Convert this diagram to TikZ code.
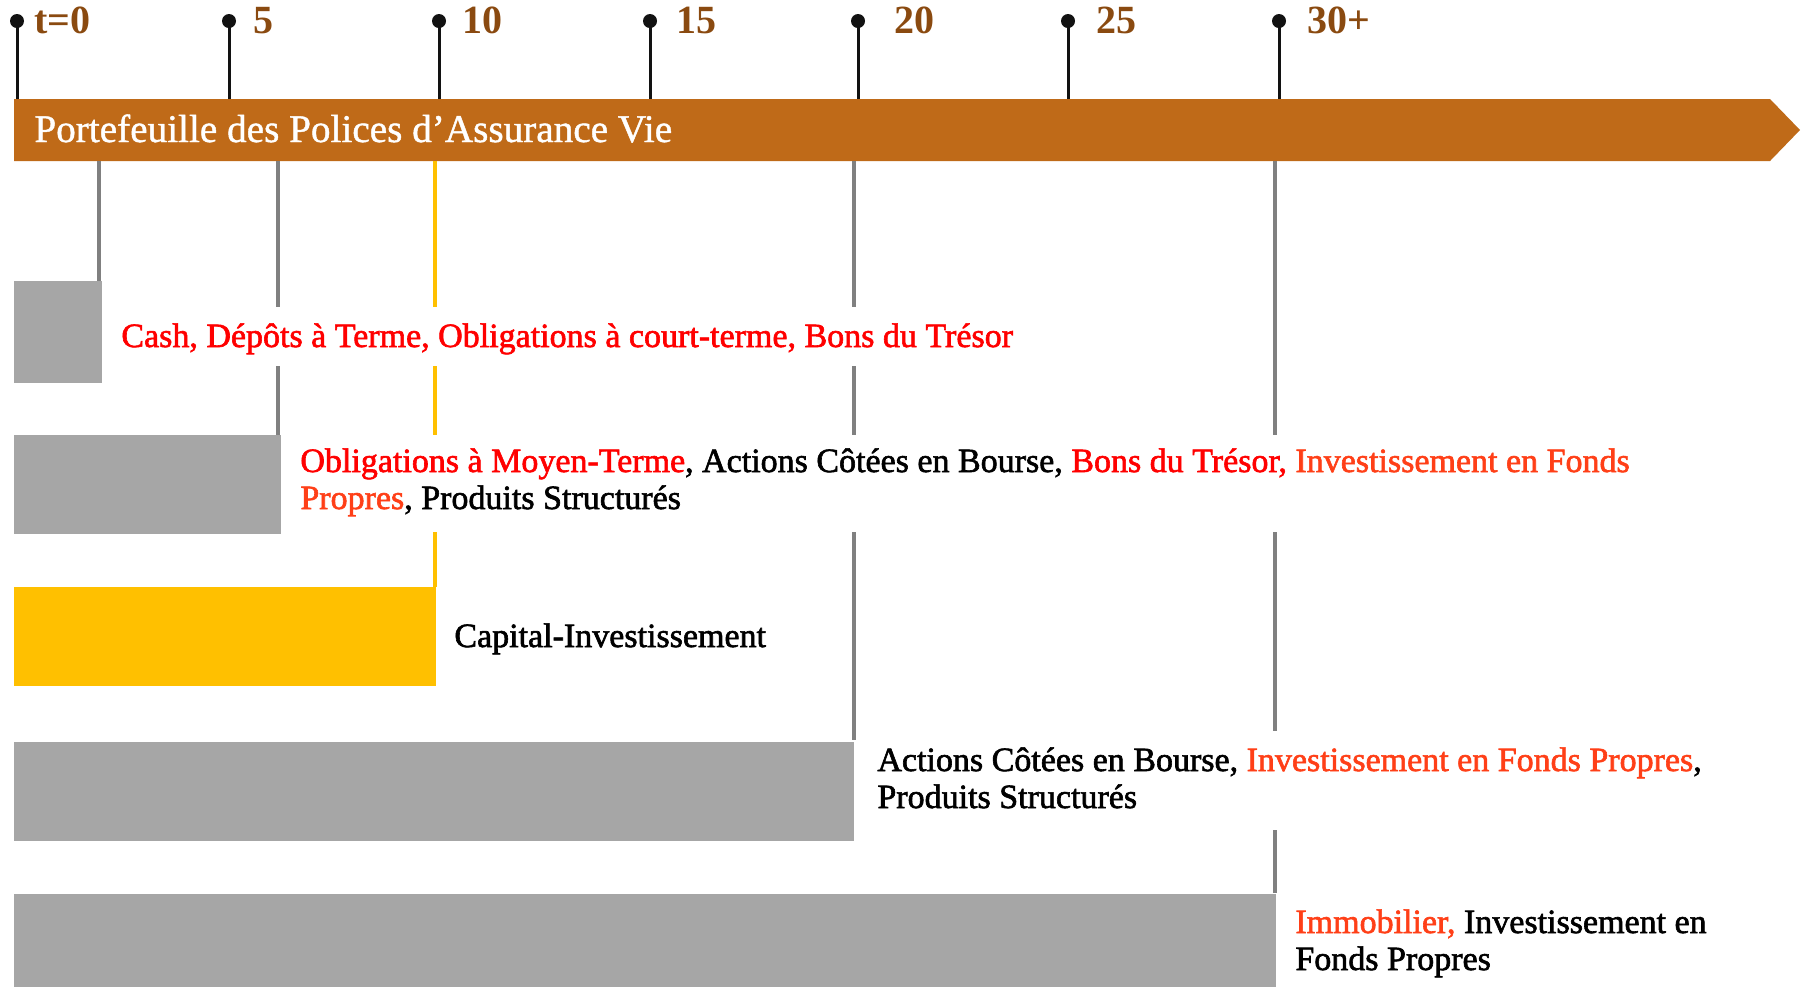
\documentclass[tikz,border=0pt]{standalone}
\usepackage{fontspec}
\setmainfont{Liberation Serif}
\newfontfamily\rowfont[FakeBold=1.8]{Liberation Serif}
\newfontfamily\bandfont[FakeBold=1.1]{Liberation Serif}
\definecolor{bandc}{HTML}{BF6A18}
\definecolor{labc}{HTML}{8A4A10}
\definecolor{boxgray}{HTML}{A6A6A6}
\definecolor{linegray}{HTML}{808080}
\definecolor{goldc}{HTML}{FFC000}
\definecolor{redc}{HTML}{FF0000}
\definecolor{orc}{HTML}{FF3F17}
\tikzset{
  ticklab/.style={anchor=base west, inner sep=0pt, text=labc, font=\fontsize{20pt}{24pt}\selectfont\bfseries},
  tickline/.style={line width=1.5pt, draw=black!93},
  rowtxt/.style={anchor=base west, inner sep=0pt, font=\rowfont\fontsize{17pt}{20pt}\selectfont},
  gline/.style={line width=2pt, draw=linegray},
  yline/.style={line width=2pt, draw=goldc},
  grect/.style={fill=boxgray, draw=none},
}
\begin{document}
\begin{tikzpicture}[x=0.5pt,y=-0.5pt]
\useasboundingbox (0,0) rectangle (1805,987);
% band
\fill[bandc] (14,99) -- (1770,99) -- (1800,130) -- (1770,161) -- (14,161) -- cycle;
\node[anchor=base west, inner sep=0pt, text=white, font=\bandfont\fontsize{19.6pt}{22pt}\selectfont] (band) at (34,142) {Portefeuille des Polices d’Assurance Vie};
% ticks
\foreach \x/\lx/\t/\n in {17/34/t=0/a,229/253/5/b,439/462/10/c,650/676/15/d,858/894/20/e,1068/1096/25/f,1279/1307/30+/g}{
  \coordinate (top\n) at (\x,21);
  \coordinate (bot\n) at (\x,99);
  \draw[tickline] (top\n) -- (bot\n);
  \fill[black!93] (top\n) circle[radius=7];
  \node[ticklab] (lab\n) at (\lx,33) {\t};
}
% boxes
\fill[grect] (14,281) rectangle (102,383);
\fill[grect] (14,435) rectangle (281,534);
\fill[goldc] (14,587) rectangle (436,686);
\fill[grect] (14,742) rectangle (854,841);
\fill[grect] (14,894) rectangle (1276,987);
% vertical lines
\draw[gline] (99,161) -- (99,281);
\draw[gline] (278,161) -- (278,307) (278,366) -- (278,435);
\draw[yline] (435,161) -- (435,307) (435,366) -- (435,435) (435,532) -- (435,587);
\draw[gline] (854,161) -- (854,307) (854,366) -- (854,435) (854,532) -- (854,740);
\draw[gline] (1275,161) -- (1275,435) (1275,532) -- (1275,731) (1275,830) -- (1275,893);
% texts
\node[rowtxt, text=redc] (r1) at (121,347) {Cash, Dépôts à Terme, Obligations à court-terme, Bons du Trésor};
\node[rowtxt] (r2a) at (300,472) {\textcolor{redc}{Obligations à Moyen-Terme}, Actions Côtées en Bourse, \textcolor{redc}{Bons du Trésor,} \textcolor{orc}{Investissement en Fonds}};
\node[rowtxt] (r2b) at (300,509) {\textcolor{orc}{Propres}, Produits Structurés};
\node[rowtxt] (r3) at (454,647) {Capital-Investissement};
\node[rowtxt] (r4a) at (877,771) {Actions Côtées en Bourse, \textcolor{orc}{Investissement en Fonds Propres},};
\node[rowtxt] (r4b) at (877,808) {Produits Structurés};
\node[rowtxt] (r5a) at (1295,933) {\textcolor{orc}{Immobilier,} Investissement en};
\node[rowtxt] (r5b) at (1295,970) {Fonds Propres};
\end{tikzpicture}
\end{document}
